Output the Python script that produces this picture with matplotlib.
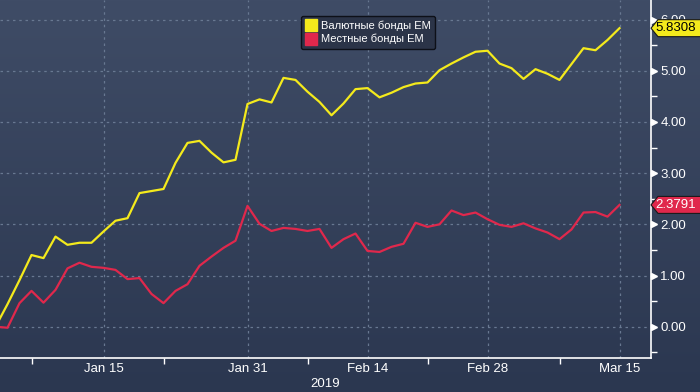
import numpy as np
import pandas as pd
import matplotlib
matplotlib.use('Agg')
import matplotlib.pyplot as plt
from matplotlib.lines import Line2D
from matplotlib.patches import Polygon
import matplotlib.transforms as mtransforms

plt.rcParams['font.family'] = ['Liberation Sans', 'DejaVu Sans']

# business days Jan 2 - Mar 15 2019
dates = pd.bdate_range('2019-01-02', '2019-03-15')

hard_ccy = [0.00, 0.44, 0.91, 1.40, 1.34, 1.76, 1.60, 1.64, 1.64, 1.86,
            2.07, 2.12, 2.61, 2.65, 2.69, 3.20, 3.59, 3.63, 3.40, 3.21,
            3.26, 4.35, 4.44, 4.38, 4.86, 4.82, 4.59, 4.39, 4.13, 4.36,
            4.64, 4.66, 4.48, 4.57, 4.68, 4.75, 4.77, 5.01, 5.14, 5.26,
            5.37, 5.39, 5.14, 5.05, 4.84, 5.03, 4.94, 4.82, 5.13, 5.44,
            5.40, 5.60, 5.8308]
local_ccy = [0.00, -0.02, 0.46, 0.70, 0.47, 0.72, 1.14, 1.25, 1.17, 1.15,
             1.11, 0.93, 0.95, 0.64, 0.46, 0.70, 0.83, 1.19, 1.37, 1.54,
             1.68, 2.36, 2.01, 1.87, 1.93, 1.91, 1.87, 1.91, 1.54, 1.71,
             1.82, 1.48, 1.46, 1.56, 1.62, 2.03, 1.95, 2.00, 2.27, 2.18,
             2.23, 2.10, 1.99, 1.95, 2.02, 1.92, 1.84, 1.71, 1.90, 2.23,
             2.24, 2.15, 2.3791]

series_names = ['Валютные бонды EM', 'Местные бонды EM']
label_dates = ['2019-01-15', '2019-01-31', '2019-02-14', '2019-02-28', '2019-03-15']
label_text = ['Jan 15', 'Jan 31', 'Feb 14', 'Feb 28', 'Mar 15']
minor_dates = ['2019-01-07', '2019-01-22', '2019-02-07', '2019-02-21', '2019-03-08']

yellow = '#f4ea1c'
red = '#e0284c'
grid_c = '#687891'

x = np.arange(len(dates))
pos = {d: i for i, d in enumerate(dates)}

fig = plt.figure(figsize=(7, 3.92), dpi=100)

# gradient background
bg = fig.add_axes([0, 0, 1, 1], zorder=-10)
grad = np.linspace(0, 1, 256).reshape(-1, 1)
top = np.array([63, 76, 102]) / 255
bot = np.array([43, 55, 80]) / 255
img = top[None, None, :] * (1 - grad[..., None]) + bot[None, None, :] * grad[..., None]
bg.imshow(img, aspect='auto', extent=[0, 1, 0, 1])
bg.axis('off')

ax = fig.add_axes([0, 34.3 / 392, 650.7 / 700, 357.7 / 392])
ax.patch.set_alpha(0)

ax.plot(x, hard_ccy, color=yellow, lw=1.6, zorder=3)
ax.plot(x, local_ccy, color=red, lw=1.6, zorder=3)

ax.set_xlim(0.375, 54.6)
ax.set_ylim(-0.605, 6.381)

for s in ['top', 'left']:
    ax.spines[s].set_visible(False)
for s in ['right', 'bottom']:
    ax.spines[s].set_color('white')
    ax.spines[s].set_linewidth(1.2)

# x axis
ax.set_xticks([pos[pd.Timestamp(d)] for d in label_dates])
ax.set_xticklabels(label_text)
ax.set_xticks([pos[pd.Timestamp(d)] for d in minor_dates], minor=True)
ax.tick_params(axis='x', which='major', length=0, pad=4, colors='white', labelsize=9.5)
ax.tick_params(axis='x', which='minor', length=4, width=1, color='white', direction='out')
ax.set_xlabel('2019', color='white', fontsize=9.5, labelpad=2)

# y axis on the right
ax.yaxis.tick_right()
ax.set_yticks(np.arange(0, 7))
ax.set_yticklabels(['%.2f' % v for v in np.arange(0, 7)])
ax.set_yticks(np.arange(-0.5, 6.0, 1.0), minor=True)
ax.tick_params(axis='y', which='major', length=0, pad=7, colors='white', labelsize=9.5)
ax.tick_params(axis='y', which='minor', length=4, width=1, color='white', direction='out')

# triangle tick markers on the spine
tri_tr = mtransforms.offset_copy(ax.get_yaxis_transform(), fig=fig, x=3, y=0, units='dots')
ax.plot([1.0] * 7, np.arange(0, 7), ls='none', marker='>', ms=4.5, color='white',
        transform=tri_tr, clip_on=False, zorder=5)

ax.grid(True, which='major', color=grid_c, ls=(0, (2, 3)), lw=0.9)

# legend
handles = [Line2D([], [], ls='none', marker='s', ms=8, color=yellow),
           Line2D([], [], ls='none', marker='s', ms=8, color=red)]
leg = ax.legend(handles, series_names, loc='upper center', bbox_to_anchor=(0.566, 0.956),
                fontsize=8, labelcolor='white', frameon=True, fancybox=True,
                handlelength=0.8, handletextpad=0.5, labelspacing=0.25,
                borderpad=0.45, borderaxespad=0)
leg.get_frame().set_facecolor('#2b3448')
leg.get_frame().set_edgecolor('#0d1018')
leg.get_frame().set_linewidth(1.0)
leg.get_frame().set_alpha(1)

# last value tags
def tag(val, face, txt):
    _, yd = ax.transData.transform((0, val))
    x0 = 651
    h = 8.5
    pts = [(x0, yd), (x0 + 7, yd + h), (702, yd + h), (702, yd - h), (x0 + 7, yd - h)]
    fig.patches.append(Polygon(pts, closed=True, facecolor=face, edgecolor='#1a1a1a',
                               lw=0.8, transform=None, zorder=10))
    fig.text(676 / 700, yd / 392, '%.4f' % val, color=txt, fontsize=9.5,
             ha='center', va='center', zorder=11)

tag(hard_ccy[-1], yellow, 'black')
tag(local_ccy[-1], red, 'white')

fig.savefig('out.png', dpi=100)
